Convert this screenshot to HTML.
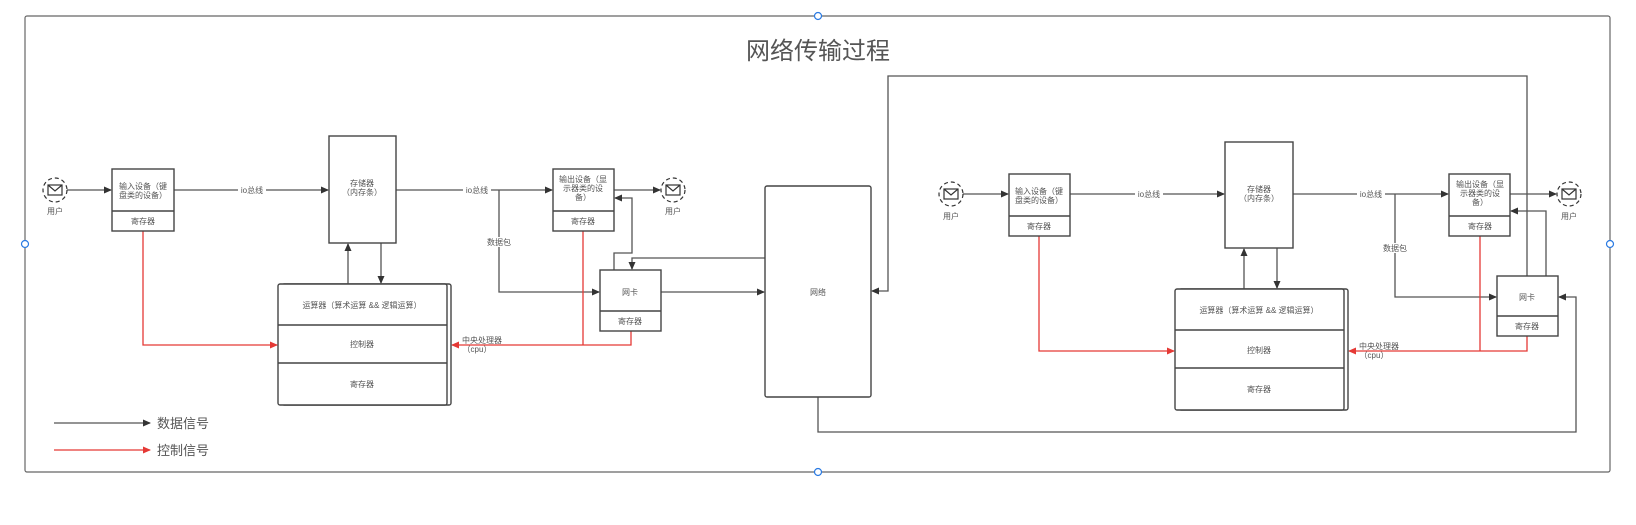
<!DOCTYPE html>
<html><head><meta charset="utf-8"><style>
html,body{margin:0;padding:0;background:#fff;}
svg{display:block;}
text{font-family:"Liberation Sans","Noto Sans CJK SC",sans-serif;fill:#555;}
</style></head><body>
<svg width="1636" height="525" viewBox="0 0 1636 525" xmlns="http://www.w3.org/2000/svg">
<defs>
<marker id="a" markerWidth="8" markerHeight="8" refX="7" refY="4" orient="auto" markerUnits="userSpaceOnUse"><path d="M0,0.5 L8,4 L0,7.5 z" fill="#333"/></marker>
<marker id="r" markerWidth="8" markerHeight="8" refX="7" refY="4" orient="auto" markerUnits="userSpaceOnUse"><path d="M0,0.5 L8,4 L0,7.5 z" fill="#e53935"/></marker>
<g id="usr"><circle r="12" fill="#fff" stroke="#333" stroke-width="1.2" stroke-dasharray="4,3"/><rect x="-7" y="-5" width="14" height="10" fill="none" stroke="#333" stroke-width="1.2"/><path d="M-7,-5 L0,1 L7,-5" fill="none" stroke="#333" stroke-width="1.2"/></g>
</defs>
<!-- frame -->
<rect x="25" y="16" width="1585" height="456" rx="2" fill="none" stroke="#666" stroke-width="1.2"/>
<g fill="#fff" stroke="#2a7ae2" stroke-width="1.2"><circle cx="818" cy="16" r="3.5"/><circle cx="818" cy="472" r="3.5"/><circle cx="25" cy="244" r="3.5"/><circle cx="1610" cy="244" r="3.5"/></g>
<text x="818" y="59" font-size="24" text-anchor="middle" fill="#333">网络传输过程</text>

<g stroke="#555" stroke-width="1.3" fill="none">
<!-- left -->
<line x1="67" y1="190" x2="111" y2="190" marker-end="url(#a)"/>
<line x1="174" y1="190" x2="328" y2="190" marker-end="url(#a)"/>
<line x1="396" y1="190" x2="552" y2="190" marker-end="url(#a)"/>
<line x1="614" y1="190" x2="660" y2="190" marker-end="url(#a)"/>
<polyline points="499,190 499,292 599,292" marker-end="url(#a)"/>
<polyline points="614,270 614,253 632,253 632,198 615,198" marker-end="url(#a)"/>
<polyline points="765,258 632,258 632,269" marker-end="url(#a)"/>
<line x1="661" y1="292" x2="764" y2="292" marker-end="url(#a)"/>
<line x1="348" y1="284" x2="348" y2="244" marker-end="url(#a)"/>
<line x1="381" y1="243" x2="381" y2="283" marker-end="url(#a)"/>
<!-- loops -->
<polyline points="1527,276 1527,76 888,76 888,291 872,291" marker-end="url(#a)"/>
<polyline points="818,397 818,432 1576,432 1576,297 1559,297" marker-end="url(#a)"/>
<!-- right -->
<line x1="963" y1="194" x2="1008" y2="194" marker-end="url(#a)"/>
<line x1="1070" y1="194" x2="1224" y2="194" marker-end="url(#a)"/>
<line x1="1293" y1="194" x2="1448" y2="194" marker-end="url(#a)"/>
<line x1="1510" y1="194" x2="1556" y2="194" marker-end="url(#a)"/>
<polyline points="1395,194 1395,297 1496,297" marker-end="url(#a)"/>
<polyline points="1546,276 1546,211 1511,211" marker-end="url(#a)"/>
<line x1="1244" y1="289" x2="1244" y2="249" marker-end="url(#a)"/>
<line x1="1277" y1="248" x2="1277" y2="288" marker-end="url(#a)"/>
<!-- legend -->
<line x1="54" y1="423" x2="150" y2="423" marker-end="url(#a)"/>
</g>
<g stroke="#e53935" stroke-width="1.3" fill="none">
<polyline points="143,231 143,345 277,345" marker-end="url(#r)"/>
<polyline points="583,231 583,345"/>
<polyline points="631,331 631,345 452,345" marker-end="url(#r)"/>
<polyline points="1039,236 1039,351 1174,351" marker-end="url(#r)"/>
<polyline points="1480,236 1480,351"/>
<polyline points="1527,336 1527,351 1349,351" marker-end="url(#r)"/>
<line x1="54" y1="450" x2="150" y2="450" marker-end="url(#r)"/>
</g>

<g fill="#fff" stroke="#444" stroke-width="1.4">
<!-- left boxes -->
<rect x="112" y="169" width="62" height="62"/><line x1="112" y1="211" x2="174" y2="211"/>
<rect x="329" y="136" width="67" height="107"/>
<rect x="553" y="169" width="61" height="62"/><line x1="553" y1="211" x2="614" y2="211"/>
<rect x="600" y="270" width="61" height="61"/><line x1="600" y1="311" x2="661" y2="311"/>
<rect x="765" y="186" width="106" height="211" rx="2"/>
<rect x="282" y="284" width="169" height="121" rx="2"/>
<rect x="278" y="284" width="169" height="121" rx="2"/>
<line x1="278" y1="325" x2="447" y2="325"/><line x1="278" y1="363" x2="447" y2="363"/>
<!-- right boxes -->
<rect x="1009" y="174" width="61" height="62"/><line x1="1009" y1="216" x2="1070" y2="216"/>
<rect x="1225" y="142" width="68" height="106"/>
<rect x="1449" y="174" width="61" height="62"/><line x1="1449" y1="216" x2="1510" y2="216"/>
<rect x="1497" y="276" width="61" height="60"/><line x1="1497" y1="316" x2="1558" y2="316"/>
<rect x="1179" y="289" width="169" height="121" rx="2"/>
<rect x="1175" y="289" width="169" height="121" rx="2"/>
<line x1="1175" y1="330" x2="1344" y2="330"/><line x1="1175" y1="368" x2="1344" y2="368"/>
</g>
<use href="#usr" x="55" y="190"/><use href="#usr" x="673" y="190"/>
<use href="#usr" x="951" y="194"/><use href="#usr" x="1569" y="194"/>

<g font-size="8" text-anchor="middle">
<text x="55" y="214">用户</text><text x="673" y="214">用户</text>
<text x="951" y="219">用户</text><text x="1569" y="219">用户</text>
<text x="143" y="189">输入设备（键</text><text x="143" y="198">盘类的设备）</text>
<text x="143" y="224">寄存器</text>
<rect x="238" y="185" width="28" height="10" fill="#fff"/><text x="252" y="193">io总线</text>
<text x="362" y="186">存储器</text><text x="362" y="195">（内存条）</text>
<rect x="463" y="185" width="28" height="10" fill="#fff"/><text x="477" y="193">io总线</text>
<text x="583" y="182">输出设备（显</text><text x="583" y="191">示器类的设</text><text x="583" y="200">备）</text>
<text x="583" y="224">寄存器</text>
<rect x="486" y="237" width="26" height="10" fill="#fff"/><text x="499" y="245">数据包</text>
<text x="630" y="295">网卡</text><text x="630" y="324">寄存器</text>
<text x="818" y="295">网络</text>
<text x="362" y="308">运算器（算术运算 &amp;&amp; 逻辑运算）</text>
<text x="362" y="347">控制器</text><text x="362" y="387">寄存器</text>
<text x="482" y="343">中央处理器</text><text x="477" y="352">（cpu）</text>

<text x="1039" y="194">输入设备（键</text><text x="1039" y="203">盘类的设备）</text>
<text x="1039" y="229">寄存器</text>
<rect x="1135" y="189" width="28" height="10" fill="#fff"/><text x="1149" y="197">io总线</text>
<text x="1259" y="192">存储器</text><text x="1259" y="201">（内存条）</text>
<rect x="1357" y="189" width="28" height="10" fill="#fff"/><text x="1371" y="197">io总线</text>
<text x="1480" y="187">输出设备（显</text><text x="1480" y="196">示器类的设</text><text x="1480" y="205">备）</text>
<text x="1480" y="229">寄存器</text>
<rect x="1382" y="243" width="26" height="10" fill="#fff"/><text x="1395" y="251">数据包</text>
<text x="1527" y="300">网卡</text><text x="1527" y="329">寄存器</text>
<text x="1259" y="313">运算器（算术运算 &amp;&amp; 逻辑运算）</text>
<text x="1259" y="353">控制器</text><text x="1259" y="392">寄存器</text>
<text x="1379" y="349">中央处理器</text><text x="1374" y="358">（cpu）</text>
</g>
<g font-size="13"><text x="157" y="428" fill="#333">数据信号</text><text x="157" y="455" fill="#333">控制信号</text></g>
</svg>
</body></html>
